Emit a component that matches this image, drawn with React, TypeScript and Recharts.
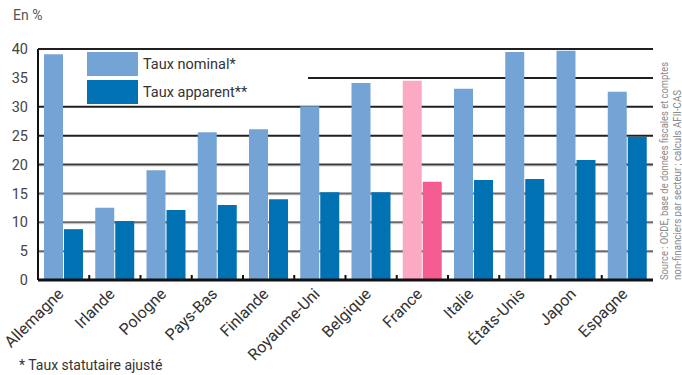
import React from 'react';
import { BarChart, Bar, XAxis, YAxis, CartesianGrid, Cell, Legend, Text } from 'recharts';

const pays = ['Allemagne', 'Irlande', 'Pologne', 'Pays-Bas', 'Finlande', 'Royaume-Uni', 'Belgique', 'France', 'Italie', 'États-Unis', 'Japon', 'Espagne'];
const tauxNominal = [39.1, 12.5, 19.0, 25.6, 26.1, 30.1, 34.1, 34.5, 33.1, 39.5, 39.7, 32.6];
const tauxApparent = [8.8, 10.2, 12.1, 13.0, 14.0, 15.2, 15.2, 17.0, 17.3, 17.5, 20.8, 24.8];
const yTicks = [0, 5, 10, 15, 20, 25, 30, 35, 40];

const W = 682;
const H = 375;
const PLOT_LEFT = 38;
const PLOT_RIGHT = 653;
const PLOT_TOP = 49;
const PLOT_BOTTOM = 280;
const BAND = (PLOT_RIGHT - PLOT_LEFT) / pays.length;

const BLEU_CLAIR = '#74a3d5';
const BLEU = '#0072b4';
const ROSE_CLAIR = '#fca9c3';
const ROSE = '#f55c91';
const FONT = 'Roboto, "DejaVu Sans", sans-serif';

const data = pays.map((p, i) => ({ pays: p, nominal: tauxNominal[i], apparent: tauxApparent[i] }));

const gridLine = (props: any) => {
  const { x1, x2, y1 } = props;
  const v = Math.round((PLOT_BOTTOM - y1) / ((PLOT_BOTTOM - PLOT_TOP) / 40));
  if (v <= 0) return <g key={`g-${y1}`} />;
  // la légende masque la ligne des 35 à gauche
  const start = v === 35 ? 308 : x1;
  const color = v >= 25 ? '#1f1f1f' : v === 20 ? '#3c3c3c' : '#6b6b6b';
  return (
    <g key={`g-${y1}`}>
      {v <= 20 && <line x1={start} x2={x2} y1={y1 + 1.5} y2={y1 + 1.5} stroke="#d4d4d4" strokeWidth={1} />}
      <line x1={start} x2={x2} y1={y1} y2={y1} stroke={color} strokeWidth={2} />
    </g>
  );
};

const XTick = ({ x, payload, index }: any) => {
  const tx = x + 1;
  const ty = PLOT_BOTTOM + 15;
  return (
    <g>
      {index < pays.length - 1 && (
        <line x1={x + BAND / 2} x2={x + BAND / 2} y1={PLOT_BOTTOM - 5} y2={PLOT_BOTTOM} stroke="#111" strokeWidth={2} />
      )}
      <Text x={tx} y={ty} angle={-45} textAnchor="end" verticalAnchor="end" fill="#333"
        style={{ fontSize: 16, fontFamily: FONT }}>
        {payload.value}
      </Text>
    </g>
  );
};

const renderLegend = () => (
  <div style={{ fontFamily: FONT, fontSize: 14.5, color: '#333' }}>
    {[{ c: BLEU_CLAIR, t: 'Taux nominal*' }, { c: BLEU, t: 'Taux apparent**' }].map((e, i) => (
      <div key={i} style={{ display: 'flex', alignItems: 'center', height: 24, marginBottom: 4 }}>
        <span style={{ width: 51, height: 24, background: e.c, display: 'inline-block' }} />
        <span style={{ marginLeft: 5 }}>{e.t}</span>
      </div>
    ))}
  </div>
);

export default function App() {
  return (
    <div style={{ position: 'absolute', left: 0, top: 0, width: W, height: H, background: '#fff', overflow: 'hidden' }}>
      <div style={{ position: 'absolute', left: 13, top: 7, fontFamily: FONT, fontSize: 14, color: '#555' }}>En %</div>
      <BarChart width={W} height={H} data={data}
        margin={{ top: PLOT_TOP, right: W - PLOT_RIGHT, bottom: 35, left: 0 }}
        barSize={19} barGap={1}>
        <CartesianGrid vertical={false} horizontal={gridLine} />
        <XAxis dataKey="pays" height={60} interval={0} tickLine={false}
          axisLine={{ stroke: '#111', strokeWidth: 3 }} tick={<XTick />} />
        <YAxis width={PLOT_LEFT} domain={[0, 40]} ticks={yTicks} interval={0} tickLine={false}
          axisLine={{ stroke: '#111', strokeWidth: 2 }} tickSize={8} tickMargin={2}
          tick={{ fill: '#444', fontSize: 14.5, fontFamily: FONT }} />
        <Legend layout="horizontal" verticalAlign="middle" content={renderLegend}
          wrapperStyle={{ position: 'absolute', left: 87, top: 52, width: 200, height: 56 }} />
        <Bar dataKey="nominal" fill={BLEU_CLAIR} isAnimationActive={false}>
          {data.map((d, i) => <Cell key={i} fill={d.pays === 'France' ? ROSE_CLAIR : BLEU_CLAIR} />)}
        </Bar>
        <Bar dataKey="apparent" fill={BLEU} isAnimationActive={false}>
          {data.map((d, i) => <Cell key={i} fill={d.pays === 'France' ? ROSE : BLEU} />)}
        </Bar>
      </BarChart>
      <svg width={W} height={H} style={{ position: 'absolute', left: 0, top: 0, pointerEvents: 'none' }}>
        <text x={668} y={280} transform="rotate(-90 668 280)" fontSize={10} fill="#888" fontFamily={FONT}
          textLength={218} lengthAdjust="spacingAndGlyphs">
          Source : OCDE, base de données fiscales et comptes
        </text>
        <text x={681} y={280} transform="rotate(-90 681 280)" fontSize={10} fill="#888" fontFamily={FONT}
          textLength={190} lengthAdjust="spacingAndGlyphs">
          non-financiers par secteur ; calculs AFII-CAS
        </text>
      </svg>
      <div style={{ position: 'absolute', left: 19, top: 357, fontFamily: FONT, fontSize: 14, color: '#333', lineHeight: '16px' }}>
        * Taux statutaire ajusté
      </div>
    </div>
  );
}
